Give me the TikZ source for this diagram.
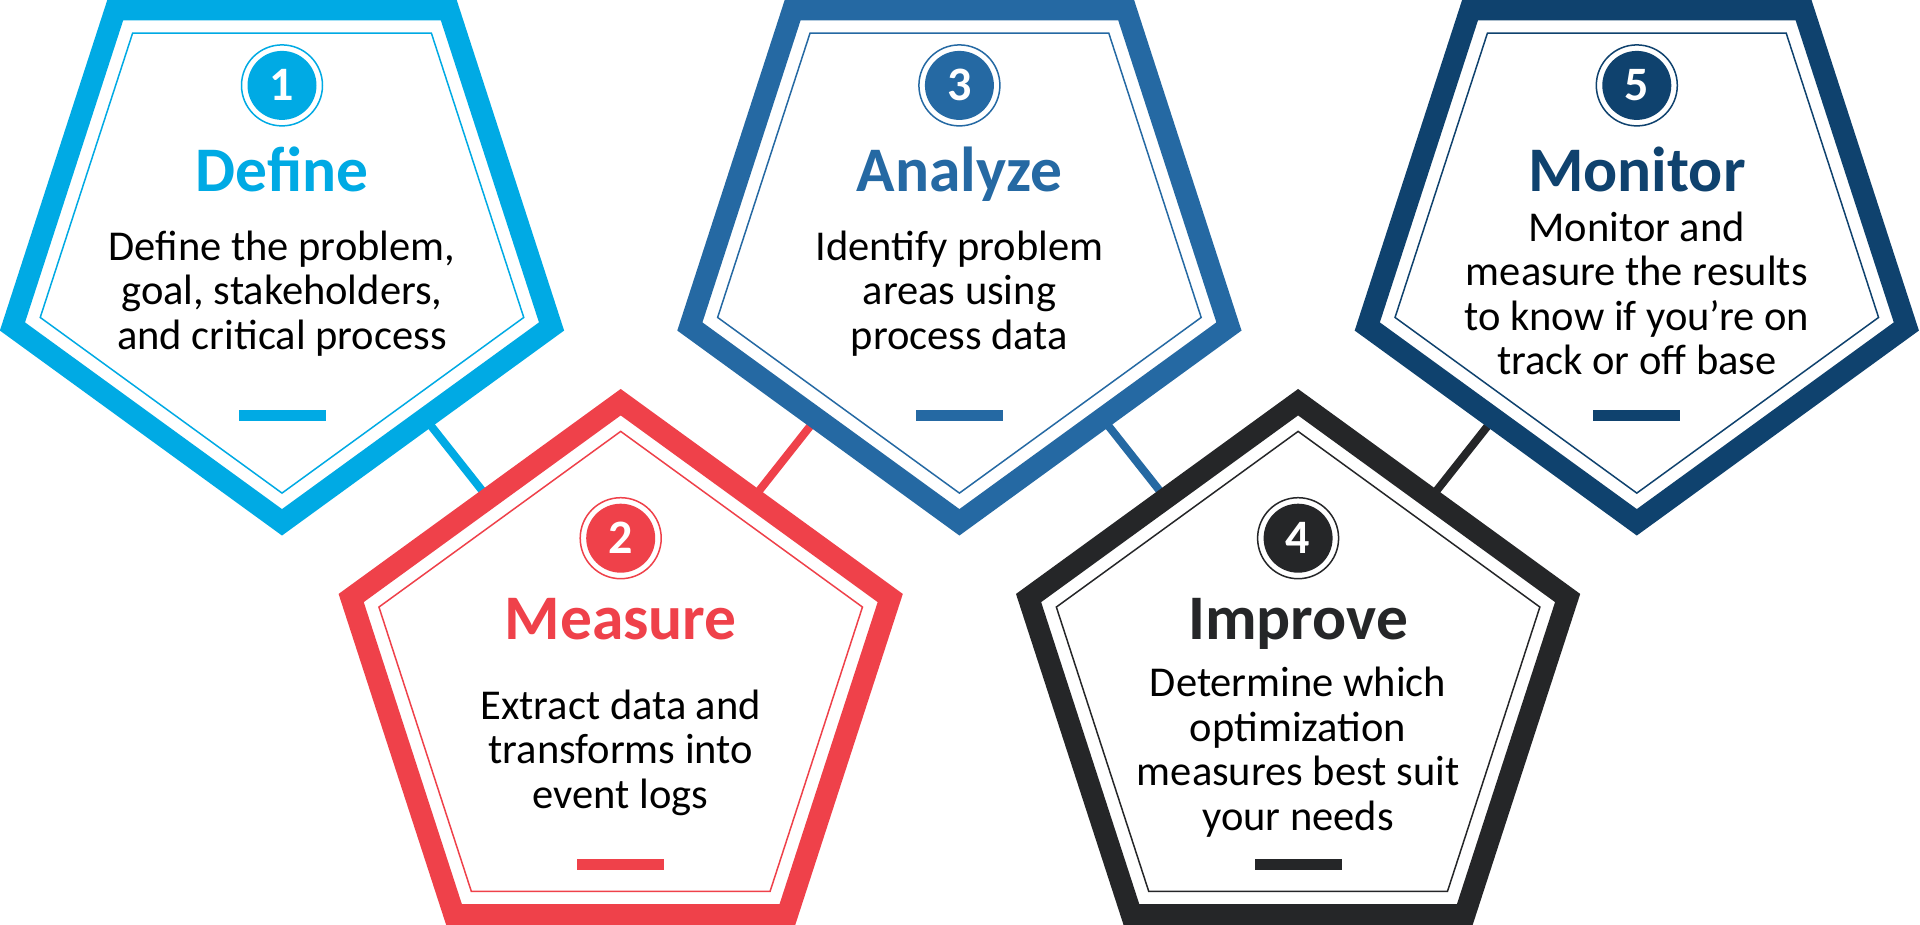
\documentclass[tikz,border=0pt]{standalone}
\usepackage{fontspec}
\setmainfont{Carlito}
\usetikzlibrary{calc}
\definecolor{cDefine}{RGB}{0,170,228}
\definecolor{cMeasure}{RGB}{239,65,74}
\definecolor{cAnalyze}{RGB}{37,105,163}
\definecolor{cImprove}{RGB}{37,38,40}
\definecolor{cMonitor}{RGB}{15,66,110}
\tikzset{
  pband/.style={draw=#1, line width=21.4pt, line join=miter},
  thinline/.style={draw=#1, line width=1.5pt, line join=miter},
  numc/.style={circle, fill=#1, minimum size=69pt, inner sep=0pt, text=white, font=\fontsize{48}{48}\selectfont\bfseries},
  ringst/.style={draw=#1, line width=1.5pt},
  ttl/.style={text=#1, font=\fontsize{63.5}{70}\selectfont\bfseries, anchor=base, inner sep=0pt},
  bodyst/.style={align=center, anchor=north, inner sep=0pt, text=black, font=\fontsize{42.5}{44.5}\selectfont},
  barst/.style={fill=#1, minimum width=87pt, minimum height=11pt, inner sep=0pt},
  conn/.style={draw=#1, line width=8pt}
}
\newcommand\drawpent[3]{%
  \begin{scope}[shift={(#1)}]
    \draw[pband=#2] (#3:283.4) -- (#3+72:283.4) -- (#3+144:283.4) -- (#3+216:283.4) -- (#3+288:283.4) -- cycle;
    \draw[thinline=#2] (#3:254.2) -- (#3+72:254.2) -- (#3+144:254.2) -- (#3+216:254.2) -- (#3+288:254.2) -- cycle;
  \end{scope}}
\begin{document}
\begin{tikzpicture}[x=1pt, y=-1pt]
  \fill[white] (0,0) rectangle (1920,925);
  \useasboundingbox (0,0) rectangle (1920,925);
  % pentagon centres
  \coordinate (p1) at (282,238.9);
  \coordinate (p2) at (620.7,685.6);
  \coordinate (p3) at (959.4,238.9);
  \coordinate (p4) at (1298.1,685.6);
  \coordinate (p5) at (1636.8,238.9);
  % connector end points
  \coordinate (c12a) at ($(p1)+(146.6,183.9)$);
  \coordinate (c12b) at ($(p1)+(202.7,254.9)$);
  \coordinate (c23a) at ($(p3)+(-146.6,183.9)$);
  \coordinate (c23b) at ($(p3)+(-202.7,254.9)$);
  \coordinate (c34a) at ($(p3)+(146.6,183.9)$);
  \coordinate (c34b) at ($(p3)+(202.7,254.9)$);
  \coordinate (c45a) at ($(p5)+(-146.6,183.9)$);
  \coordinate (c45b) at ($(p5)+(-202.7,254.9)$);
  \draw[conn=cDefine] (c12a) -- (c12b);
  \draw[conn=cMeasure] (c23b) -- (c23a);
  \draw[conn=cAnalyze] (c34a) -- (c34b);
  \draw[conn=cImprove] (c45b) -- (c45a);
  % pentagons
  \drawpent{p1}{cDefine}{90}
  \drawpent{p2}{cMeasure}{270}
  \drawpent{p3}{cAnalyze}{90}
  \drawpent{p4}{cImprove}{270}
  \drawpent{p5}{cMonitor}{90}
  % numbers
  \node[numc=cDefine] (n1) at (282,85.4) {1};
  \node[numc=cMeasure] (n2) at (620.7,538.2) {2};
  \node[numc=cAnalyze] (n3) at (959.4,85.4) {3};
  \node[numc=cImprove] (n4) at (1298.1,538.2) {4};
  \node[numc=cMonitor] (n5) at (1636.8,85.4) {5};
  \draw[ringst=cDefine] (n1.center) circle[radius=40.5];
  \draw[ringst=cMeasure] (n2.center) circle[radius=40.5];
  \draw[ringst=cAnalyze] (n3.center) circle[radius=40.5];
  \draw[ringst=cImprove] (n4.center) circle[radius=40.5];
  \draw[ringst=cMonitor] (n5.center) circle[radius=40.5];
  % titles
  \node[ttl=cDefine] (t1) at (282,191.5) {Define};
  \node[ttl=cMeasure] (t2) at (620.7,639) {Measure};
  \node[ttl=cAnalyze] (t3) at (959.4,191.5) {Analyze};
  \node[ttl=cImprove] (t4) at (1298.1,639) {Improve};
  \node[ttl=cMonitor] (t5) at (1636.8,191.5) {Monitor};
  % bodies
  \node[bodyst] (b1) at (282,224) {\rule{0pt}{36pt}Define the problem,\\goal, stakeholders,\\and critical process};
  \node[bodyst] (b2) at (620.7,682.9) {\rule{0pt}{36pt}Extract data and\\transforms into\\event logs};
  \node[bodyst] (b3) at (959.4,224) {\rule{0pt}{36pt}Identify problem\\areas using\\process data};
  \node[bodyst] (b4) at (1298.1,660.3) {\rule{0pt}{36pt}Determine which\\optimization\\measures best suit\\your needs};
  \node[bodyst] (b5) at (1636.8,205) {\rule{0pt}{36pt}Monitor and\\measure the results\\to know if you’re on\\track or off base};
  % bars
  \node[barst=cDefine] (r1) at (282,415.3) {};
  \node[barst=cMeasure] (r2) at (620.7,864.9) {};
  \node[barst=cAnalyze] (r3) at (959.4,415.3) {};
  \node[barst=cImprove] (r4) at (1298.1,864.9) {};
  \node[barst=cMonitor] (r5) at (1636.8,415.3) {};
\end{tikzpicture}
\end{document}
